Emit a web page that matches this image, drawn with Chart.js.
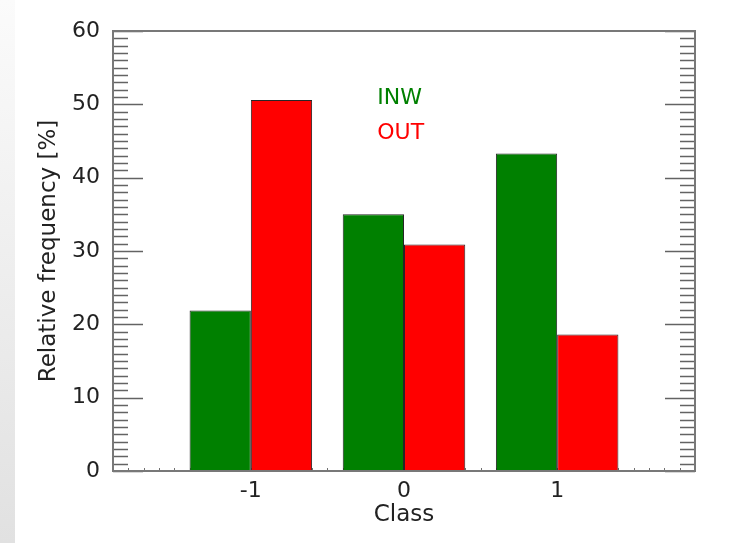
<!DOCTYPE html>
<html>
<head>
<meta charset="utf-8">
<script src="https://cdn.jsdelivr.net/npm/chart.js@4/dist/chart.umd.min.js"></script>
<style>
  html, body { margin: 0; padding: 0; }
  body {
    width: 737px; height: 543px; overflow: hidden;
    background: linear-gradient(to bottom, #fbfbfb, #e1e1e1) left top / 15px 100% no-repeat, #ffffff;
  }
  #wrap { position: relative; width: 737px; height: 543px; }
</style>
</head>
<body>
<div id="wrap"><canvas id="c" width="737" height="543"></canvas></div>
<script>
// Class values on the x axis
const classes = [-1, 0, 1];
// Relative frequency (%) per class
const inwValues = [21.9, 35.0, 43.3];
const outValues = [50.6, 30.9, 18.6];
const seriesNames = ['INW', 'OUT'];
const seriesColors = ['#008000', '#ff0000'];
const yTicks = [0, 10, 20, 30, 40, 50, 60];

const FONT = 'DejaVu Sans';

// Box frame with inward major/minor ticks and the coloured series names
const framePlugin = {
  id: 'frameTicks',
  beforeDatasetsDraw(chart) {
    const { ctx, chartArea: a, scales: { x } } = chart;
    ctx.save();
    ctx.strokeStyle = '#707070';
    ctx.lineWidth = 1;
    // small minor ticks along the bottom axis
    for (let i = Math.round(x.min * 10); i <= Math.round(x.max * 10); i++) {
      const px = Math.round(x.getPixelForValue(i / 10)) + 0.5;
      ctx.beginPath();
      ctx.moveTo(px, a.bottom);
      ctx.lineTo(px, a.bottom - 3);
      ctx.stroke();
    }
    ctx.restore();
  },
  afterDatasetsDraw(chart) {
    const { ctx, chartArea: a, scales: { y } } = chart;
    ctx.save();
    ctx.strokeStyle = '#636363';
    ctx.lineWidth = 1.7;
    for (let v = y.min; v <= y.max; v += 1) {
      const py = Math.round(y.getPixelForValue(v)) + 0.5;
      const len = v % 10 === 0 ? 30 : 15;
      ctx.beginPath();
      ctx.moveTo(a.left, py); ctx.lineTo(a.left + len, py);
      ctx.moveTo(a.right, py); ctx.lineTo(a.right - len, py);
      ctx.stroke();
    }
    ctx.strokeStyle = '#787878';
    ctx.lineWidth = 2;
    ctx.strokeRect(a.left, a.top, a.right - a.left, a.bottom - a.top);

    // series names inside the plot
    ctx.font = '22px "' + FONT + '"';
    ctx.textAlign = 'left';
    ctx.textBaseline = 'middle';
    chart.data.datasets.forEach((ds, i) => {
      ctx.fillStyle = ds.backgroundColor;
      const tx = a.left + (a.right - a.left) * 0.454;
      const ty = a.top + (a.bottom - a.top) * (0.152 + i * 0.08);
      ctx.fillText(ds.label, tx, ty);
    });
    ctx.restore();
  }
};

new Chart(document.getElementById('c'), {
  type: 'bar',
  data: {
    datasets: [
      {
        label: seriesNames[0],
        data: classes.map((c, i) => ({ x: c, y: inwValues[i] })),
        backgroundColor: seriesColors[0],
        borderColor: '#262626',
        borderWidth: 1
      },
      {
        label: seriesNames[1],
        data: classes.map((c, i) => ({ x: c, y: outValues[i] })),
        backgroundColor: seriesColors[1],
        borderColor: '#262626',
        borderWidth: 1
      }
    ]
  },
  options: {
    responsive: false,
    animation: false,
    devicePixelRatio: 1,
    layout: { padding: { left: 0, top: 31, right: 42, bottom: 0 } },
    datasets: { bar: { barPercentage: 1.0, categoryPercentage: 0.8 } },
    plugins: {
      legend: { display: false },
      tooltip: { enabled: false }
    },
    scales: {
      x: {
        type: 'linear',
        min: -1.9,
        max: 1.9,
        offset: false,
        grid: { display: false, drawTicks: false, offset: false },
        border: { display: false },
        afterBuildTicks: (s) => { s.ticks = classes.map(v => ({ value: v })); },
        afterFit: (s) => { s.height = 72; },
        ticks: {
          padding: 7,
          color: '#222222',
          font: { family: FONT, size: 22 },
          callback: (v) => String(v),
          autoSkip: false,
          maxRotation: 0
        },
        title: {
          display: true,
          text: 'Class',
          color: '#222222',
          font: { family: FONT, size: 23 },
          padding: { top: 0, bottom: 14 }
        }
      },
      y: {
        min: 0,
        max: 60,
        grid: { display: false, drawTicks: false },
        border: { display: false },
        afterBuildTicks: (s) => { s.ticks = yTicks.map(v => ({ value: v })); },
        afterFit: (s) => { s.width = 113; },
        ticks: {
          padding: 13,
          color: '#222222',
          font: { family: FONT, size: 22 }
        },
        title: {
          display: true,
          text: 'Relative frequency [%]',
          color: '#222222',
          font: { family: FONT, size: 23 },
          padding: { top: 35, bottom: 0 }
        }
      }
    }
  },
  plugins: [framePlugin]
});
</script>
</body>
</html>
